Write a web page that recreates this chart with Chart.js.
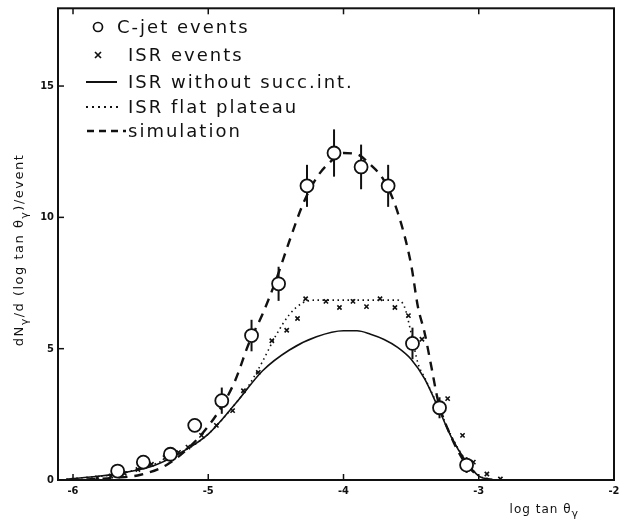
<!DOCTYPE html>
<html><head><meta charset="utf-8">
<script src="https://cdn.jsdelivr.net/npm/chart.js@4.4.1/dist/chart.umd.min.js"></script>
<style>html,body{margin:0;padding:0;background:#fff}canvas{display:block}</style>
</head><body>
<canvas id="c" width="626" height="529"></canvas>
<script>
// ---- data ----
const xTicks = [-6, -5, -4, -3, -2];
const yTicks = [0, 5, 10, 15];

const cjetX   = [-5.67,-5.48,-5.28,-5.10,-4.90,-4.68,-4.48,-4.27,-4.07,-3.87,-3.67,-3.49,-3.29,-3.09];
const cjetY   = [0.34, 0.68, 0.98, 2.08, 3.02, 5.5, 7.47, 11.2, 12.45, 11.92, 11.2, 5.2, 2.75, 0.57];
const cjetErr = [0, 0, 0, 0.25, 0.5, 0.6, 0.65, 0.8, 0.9, 0.85, 0.8, 0.6, 0.4, 0.3];

const isrX = [-5.82,-5.72,-5.62,-5.52,-5.42,-5.32,-5.22,-5.15,-5.05,-4.94,-4.82,-4.74,-4.63,-4.53,-4.42,-4.34,-4.28,-4.13,-4.03,-3.93,-3.83,-3.73,-3.62,-3.52,-3.42,-3.23,-3.12,-3.04,-2.94,-2.84];
const isrY = [0.08,0.15,0.25,0.4,0.6,0.85,1.05,1.25,1.7,2.08,2.64,3.4,4.1,5.3,5.7,6.15,6.9,6.8,6.57,6.8,6.6,6.9,6.57,6.26,5.36,3.1,1.7,0.68,0.23,0.04];

const solidX = [-6.05,-5.8,-5.6,-5.4,-5.2,-5.0,-4.8,-4.6,-4.4,-4.2,-4.0,-3.9,-3.8,-3.7,-3.6,-3.5,-3.4,-3.3,-3.2,-3.1,-3.0,-2.9];
const solidY = [0.03,0.15,0.3,0.55,1.05,1.75,2.9,4.15,4.95,5.45,5.68,5.68,5.55,5.35,5.05,4.6,3.85,2.75,1.6,0.75,0.15,0.02];

const flatX = [-6.05,-5.6,-5.2,-5.0,-4.8,-4.7,-4.6,-4.5,-4.4,-4.3,-4.2,-4.0,-3.8,-3.6,-3.55,-3.5,-3.45,-3.4,-3.3,-3.2,-3.1,-3.0,-2.9];
const flatY = [0.03,0.3,1.05,1.75,2.9,3.6,4.5,5.5,6.3,6.75,6.85,6.85,6.85,6.85,6.6,5.6,4.45,3.9,2.8,1.65,0.78,0.17,0.02];

const simX = [-5.9,-5.7,-5.5,-5.3,-5.1,-5.0,-4.9,-4.8,-4.7,-4.6,-4.5,-4.4,-4.3,-4.2,-4.1,-4.0,-3.9,-3.8,-3.7,-3.6,-3.5,-3.45,-3.4,-3.35,-3.3,-3.2,-3.1,-3.0];
const simY = [0.02,0.08,0.2,0.6,1.45,2.05,2.8,3.8,5.2,6.3,7.6,9.1,10.5,11.5,12.1,12.45,12.4,12.0,11.4,10.2,8.2,6.6,5.6,4.3,3.0,1.6,0.65,0.12];

const legendLabels = ['C-jet events', 'ISR events', 'ISR without succ.int.', 'ISR flat plateau', 'simulation'];
const xTitle = ['log tan θ', 'γ'];
const yTitle = [['dN',0],['γ',1],['/d (log tan θ',0],['γ',1],[')/event',0]];

const pts = (xs, ys) => xs.map((x, i) => ({x, y: ys[i]}));
const INK = '#111';

const extras = {
  id: 'extras',
  beforeDatasetsDraw(chart) {
    const {ctx, scales: {x, y}} = chart;
    ctx.save();
    ctx.strokeStyle = INK; ctx.lineWidth = 2;
    cjetX.forEach((cx, i) => {
      if (!cjetErr[i]) return;
      const px = x.getPixelForValue(cx);
      ctx.beginPath();
      ctx.moveTo(px, y.getPixelForValue(cjetY[i] - cjetErr[i]));
      ctx.lineTo(px, y.getPixelForValue(cjetY[i] + cjetErr[i]));
      ctx.stroke();
    });
    ctx.restore();
  },
  afterDraw(chart) {
    const {ctx, chartArea: a, scales: {x, y}} = chart;
    ctx.save();
    ctx.strokeStyle = INK; ctx.fillStyle = INK;
    // frame
    ctx.lineWidth = 2;
    ctx.strokeRect(a.left, a.top, a.right - a.left, a.bottom - a.top);
    // inward ticks
    ctx.lineWidth = 1.5;
    xTicks.forEach(v => {
      const px = x.getPixelForValue(v);
      ctx.beginPath(); ctx.moveTo(px, a.bottom); ctx.lineTo(px, a.bottom - 6); ctx.stroke();
      ctx.beginPath(); ctx.moveTo(px, a.top); ctx.lineTo(px, a.top + 6); ctx.stroke();
    });
    yTicks.forEach(v => {
      const py = y.getPixelForValue(v);
      ctx.beginPath(); ctx.moveTo(a.left, py); ctx.lineTo(a.left + 6, py); ctx.stroke();
    });
    // legend
    const rows = [27, 55, 82, 107, 131];
    ctx.font = '18px "DejaVu Sans"';
    ctx.textBaseline = 'middle';
    ctx.textAlign = 'left';
    try { ctx.letterSpacing = '2px'; } catch (e) {}
    ctx.lineWidth = 1.7;
    ctx.beginPath(); ctx.arc(98, rows[0], 4.5, 0, Math.PI * 2); ctx.stroke();
    ctx.fillText(legendLabels[0], 117, rows[0] + 1);
    ctx.beginPath();
    ctx.moveTo(95, rows[1] - 3); ctx.lineTo(101, rows[1] + 3);
    ctx.moveTo(101, rows[1] - 3); ctx.lineTo(95, rows[1] + 3);
    ctx.stroke();
    ctx.fillText(legendLabels[1], 128, rows[1] + 1);
    ctx.lineWidth = 2;
    ctx.beginPath(); ctx.moveTo(86, rows[2]); ctx.lineTo(117, rows[2]); ctx.stroke();
    ctx.fillText(legendLabels[2], 128, rows[2] + 1);
    ctx.setLineDash([2, 4]);
    ctx.beginPath(); ctx.moveTo(86, rows[3]); ctx.lineTo(120, rows[3]); ctx.stroke();
    ctx.fillText(legendLabels[3], 128, rows[3] + 1);
    ctx.setLineDash([7, 5]);
    ctx.lineWidth = 2.5;
    ctx.beginPath(); ctx.moveTo(87, rows[4]); ctx.lineTo(126, rows[4]); ctx.stroke();
    ctx.setLineDash([]);
    ctx.fillText(legendLabels[4], 128, rows[4] + 1);
    try { ctx.letterSpacing = '0px'; } catch (e) {}

    // x title (right aligned)
    ctx.textBaseline = 'alphabetic';
    try { ctx.letterSpacing = '1px'; } catch (e) {}
    ctx.font = '12px "DejaVu Sans"';
    const mainW = ctx.measureText(xTitle[0]).width;
    ctx.font = '11px "DejaVu Sans"';
    const subW = ctx.measureText(xTitle[1]).width;
    const xEnd = 579, xBase = 513;
    ctx.font = '12px "DejaVu Sans"';
    ctx.fillText(xTitle[0], xEnd - subW - mainW, xBase);
    ctx.font = '11px "DejaVu Sans"';
    ctx.fillText(xTitle[1], xEnd - subW, xBase + 4);

    // y title (rotated)
    ctx.save();
    ctx.translate(23, 250);
    ctx.rotate(-Math.PI / 2);
    try { ctx.letterSpacing = '1.5px'; } catch (e) {}
    let total = 0;
    yTitle.forEach(([t, s]) => { ctx.font = (s ? '11px' : '13px') + ' "DejaVu Sans"'; total += ctx.measureText(t).width; });
    let cx = -total / 2;
    yTitle.forEach(([t, s]) => {
      ctx.font = (s ? '11px' : '13px') + ' "DejaVu Sans"';
      ctx.fillText(t, cx, s ? 5 : 0);
      cx += ctx.measureText(t).width;
    });
    ctx.restore();
    ctx.restore();
  }
};

const tickFont = {family: '"DejaVu Sans Condensed", "DejaVu Sans"', size: 11, weight: 'bold'};

new Chart(document.getElementById('c'), {
  type: 'scatter',
  data: {
    datasets: [
      {label: legendLabels[0], data: pts(cjetX, cjetY), pointStyle: 'circle', pointRadius: 6.5, pointHoverRadius: 6.5,
       borderColor: INK, backgroundColor: '#fff', pointBorderWidth: 1.8, showLine: false},
      {label: legendLabels[1], data: pts(isrX, isrY), pointStyle: 'crossRot', pointRadius: 3, pointHoverRadius: 3,
       borderColor: INK, pointBorderWidth: 1.6, showLine: false},
      {label: legendLabels[2], data: pts(solidX, solidY), showLine: true, pointRadius: 0, borderColor: INK,
       borderWidth: 1.6, cubicInterpolationMode: 'monotone', tension: 0.4},
      {label: legendLabels[3], data: pts(flatX, flatY), showLine: true, pointRadius: 0, borderColor: INK,
       borderWidth: 1.6, borderDash: [1.5, 3.5], cubicInterpolationMode: 'monotone', tension: 0.4},
      {label: legendLabels[4], data: pts(simX, simY), showLine: true, pointRadius: 0, borderColor: INK,
       borderWidth: 2.4, borderDash: [9, 7], cubicInterpolationMode: 'monotone', tension: 0.4}
    ]
  },
  options: {
    responsive: false,
    animation: false,
    devicePixelRatio: 1,
    layout: {padding: {top: 4, right: 12, left: 0, bottom: 0}},
    plugins: {legend: {display: false}, tooltip: {enabled: false}},
    scales: {
      x: {
        type: 'linear', min: -6.111, max: -2,
        grid: {display: false, drawTicks: false},
        border: {display: false},
        afterBuildTicks: s => { s.ticks = xTicks.map(v => ({value: v})); },
        afterFit: s => { s.height = 49; s.paddingLeft = 0; s.paddingRight = 0; },
        ticks: {font: tickFont, color: INK, padding: 5, maxRotation: 0, autoSkip: false}
      },
      y: {
        type: 'linear', min: 0, max: 17.96,
        grid: {display: false, drawTicks: false},
        border: {display: false},
        afterBuildTicks: s => { s.ticks = yTicks.map(v => ({value: v})); },
        afterFit: s => { s.width = 58; s.paddingTop = 0; s.paddingBottom = 0; },
        ticks: {font: tickFont, color: INK, padding: 4, autoSkip: false}
      }
    }
  },
  plugins: [extras]
});
</script>
</body></html>
